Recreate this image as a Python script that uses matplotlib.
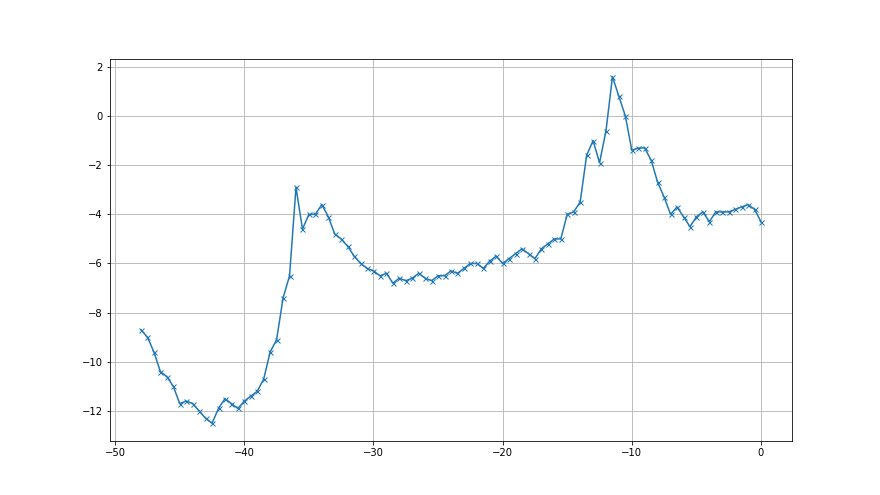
import matplotlib
matplotlib.use('Agg')
import matplotlib.pyplot as plt

x = [-48.0, -47.5, -47.0, -46.5, -46.0, -45.5, -45.0, -44.5, -44.0, -43.5,
     -43.0, -42.5, -42.0, -41.5, -41.0, -40.5, -40.0, -39.5, -39.0, -38.5,
     -38.0, -37.5, -37.0, -36.5, -36.0, -35.5, -35.0, -34.5, -34.0, -33.5,
     -33.0, -32.5, -32.0, -31.5, -31.0, -30.5, -30.0, -29.5, -29.0, -28.5,
     -28.0, -27.5, -27.0, -26.5, -26.0, -25.5, -25.0, -24.5, -24.0, -23.5,
     -23.0, -22.5, -22.0, -21.5, -21.0, -20.5, -20.0, -19.5, -19.0, -18.5,
     -18.0, -17.5, -17.0, -16.5, -16.0, -15.5, -15.0, -14.5, -14.0, -13.5,
     -13.0, -12.5, -12.0, -11.5, -11.0, -10.5, -10.0, -9.5, -9.0, -8.5,
     -8.0, -7.5, -7.0, -6.5, -6.0, -5.5, -5.0, -4.5, -4.0, -3.5,
     -3.0, -2.5, -2.0, -1.5, -1.0, -0.5, 0.0]

y = [-8.7, -9.0, -9.6, -10.4, -10.6, -11.0, -11.7, -11.6, -11.7, -12.0,
     -12.3, -12.5, -11.9, -11.5, -11.7, -11.9, -11.6, -11.4, -11.2, -10.7,
     -9.6, -9.1, -7.4, -6.5, -2.9, -4.6, -4.0, -4.0, -3.6, -4.1,
     -4.8, -5.0, -5.3, -5.7, -6.0, -6.2, -6.3, -6.5, -6.4, -6.8,
     -6.6, -6.7, -6.6, -6.4, -6.6, -6.7, -6.5, -6.5, -6.3, -6.4,
     -6.2, -6.0, -6.0, -6.2, -5.9, -5.7, -6.0, -5.8, -5.6, -5.4,
     -5.6, -5.8, -5.4, -5.2, -5.0, -5.0, -4.0, -3.9, -3.5, -1.6,
     -1.0, -1.9, -0.6, 1.6, 0.8, 0.0, -1.4, -1.3, -1.3, -1.8,
     -2.7, -3.3, -4.0, -3.7, -4.1, -4.5, -4.1, -3.9, -4.3, -3.9,
     -3.9, -3.9, -3.8, -3.7, -3.6, -3.8, -4.3]

# rendered at 72 dpi, so lines and text come out thinner/smaller
fig = plt.figure(figsize=(880 / 72, 495 / 72), dpi=72)
ax = fig.add_subplot(111)
ax.plot(x, y, marker='x', markersize=5, linestyle='-')
ax.grid(True)
fig.savefig('out.png', dpi=72)
